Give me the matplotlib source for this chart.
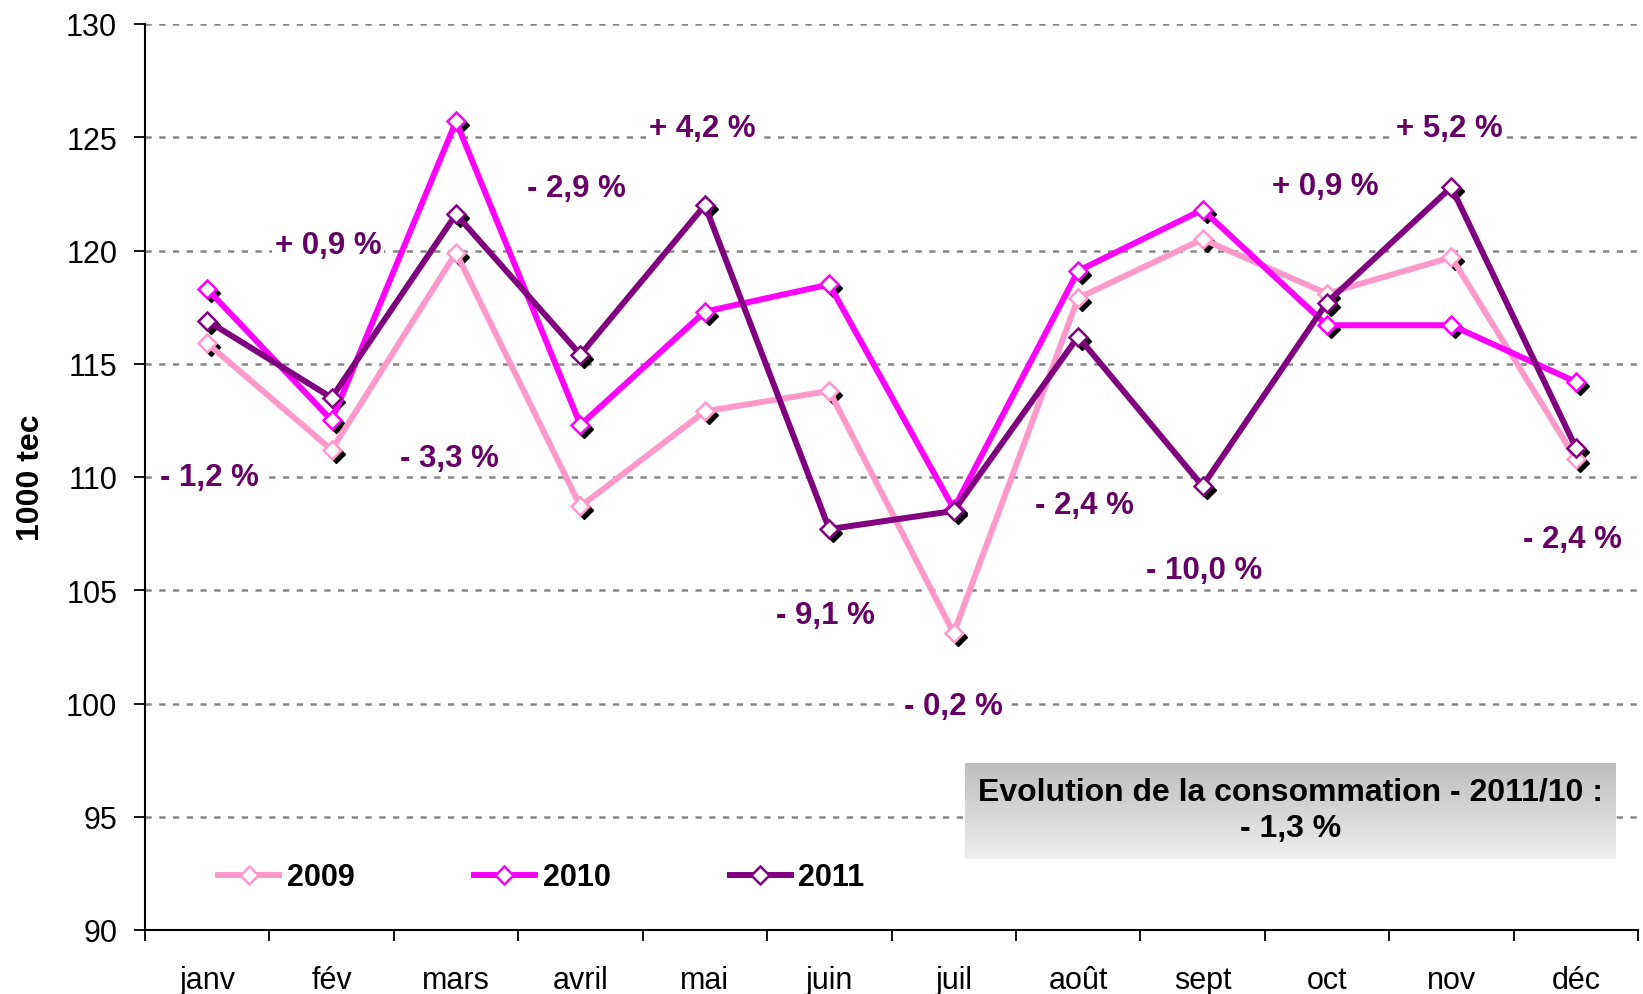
import numpy as np
import matplotlib
matplotlib.use("Agg")
import matplotlib.pyplot as plt
from matplotlib.transforms import offset_copy
from matplotlib.colors import to_rgb
from matplotlib.patches import Rectangle

plt.rcParams['font.family'] = ['Liberation Sans', 'DejaVu Sans']

# data
months = ["janv", "fév", "mars", "avril", "mai", "juin",
          "juil", "août", "sept", "oct", "nov", "déc"]
y2009 = [115.9, 111.2, 119.9, 108.7, 112.9, 113.8, 103.1, 117.9, 120.5, 118.1, 119.7, 110.8]
y2010 = [118.3, 112.5, 125.7, 112.3, 117.3, 118.5, 108.6, 119.1, 121.8, 116.7, 116.7, 114.2]
y2011 = [116.9, 113.5, 121.6, 115.4, 122.0, 107.7, 108.5, 116.2, 109.6, 117.7, 122.8, 111.3]

pct_labels = ["- 1,2 %", "+ 0,9 %", "- 3,3 %", "- 2,9 %", "+ 4,2 %", "- 9,1 %",
              "- 0,2 %", "- 2,4 %", "- 10,0 %", "+ 0,9 %", "+ 5,2 %", "- 2,4 %"]
label_y = [110.0, 120.25, 110.85, 122.75, 125.4, 103.9,
           99.9, 108.75, 105.9, 122.85, 125.4, 107.25]
label_dx = [0.02, -0.03, -0.05, -0.03, -0.02, -0.03, 0.0, 0.05, 0.01, -0.01, -0.02, -0.03]

series = [("2009", y2009, "#FF99CC"),
          ("2010", y2010, "#FF00FF"),
          ("2011", y2011, "#800080")]

fig = plt.figure(figsize=(16.43, 9.95), dpi=100)
ax = fig.add_axes([145/1643, 1 - 931/995, 1493/1643, 906/995])

x = np.arange(len(months))

# percentage labels
for i, (lab, ly) in enumerate(zip(pct_labels, label_y)):
    ax.text(x[i] + label_dx[i], ly, lab, ha="center", va="center",
            fontsize=22.5, fontweight="bold", color="#660066", zorder=1.5,
            bbox=dict(facecolor="white", edgecolor="none", pad=2))

# black marker shadows, then lines with white diamonds
shadow = offset_copy(ax.transData, fig=fig, x=4, y=-4, units="dots")
for name, vals, col in series:
    ax.plot(x, vals, linestyle="none", marker="D", ms=9.5, color="black",
            mec="black", transform=shadow, zorder=2)
for k, (name, vals, col) in enumerate(series):
    ax.plot(x, vals, color=col, lw=4.3, marker="D", ms=9.5, mfc="white",
            mec=col, mew=1.8, label=name, zorder=3 + k)

ax.set_xlim(-0.5, 11.5)
ax.set_ylim(90, 130)
ax.set_yticks(np.arange(90, 131, 5))
ax.yaxis.grid(True, color="#868686", lw=1.8, linestyle=(0, (2.5, 3)), zorder=0.5)
ax.set_axisbelow(True)

# category ticks between months, labels centred
ax.set_xticks(np.arange(-0.5, 12, 1))
ax.set_xticklabels([])
ax.set_xticks(x, minor=True)
ax.set_xticklabels(months, minor=True)
ax.tick_params(axis="x", which="major", direction="out", length=8, width=1.3)
ax.tick_params(axis="x", which="minor", length=0, pad=25, labelsize=22)
ax.tick_params(axis="y", direction="out", length=8, width=1.3, pad=12, labelsize=22)

for s in ["top", "right"]:
    ax.spines[s].set_visible(False)
for s in ["left", "bottom"]:
    ax.spines[s].set_linewidth(1.5)

ax.set_ylabel("1000 tec", fontsize=23, fontweight="bold")
ax.yaxis.set_label_coords(-0.066, 0.5)

leg = ax.legend(loc="center left", bbox_to_anchor=(0.049, 0.058), ncol=3,
                frameon=False, prop=dict(size=22, weight="bold"),
                handlelength=2.0, handletextpad=0.25, columnspacing=3.9,
                borderaxespad=0, borderpad=0)

# gradient box with the yearly evolution: dark at top, light at bottom
bx0, bx1, by0, by1 = 0.549, 0.985, 0.078, 0.184
top_c = np.array(to_rgb("#BEBEBE"))
bot_c = np.array(to_rgb("#EEEEEE"))
n = 60
h = (by1 - by0) / n
for j in range(n):
    frac = j / (n - 1)          # 0 at bottom, 1 at top
    c = bot_c * (1 - frac) + top_c * frac
    ax.add_patch(Rectangle((bx0, by0 + j * h), bx1 - bx0, h * 1.05,
                           transform=ax.transAxes, facecolor=c,
                           edgecolor="none", zorder=6))
ax.text((bx0 + bx1) / 2, (by0 + by1) / 2 + 0.002,
        "Evolution de la consommation - 2011/10 :\n- 1,3 %",
        transform=ax.transAxes, ha="center", va="center", fontsize=23,
        fontweight="bold", linespacing=1.3, zorder=7)

fig.savefig("out.png", dpi=100)
